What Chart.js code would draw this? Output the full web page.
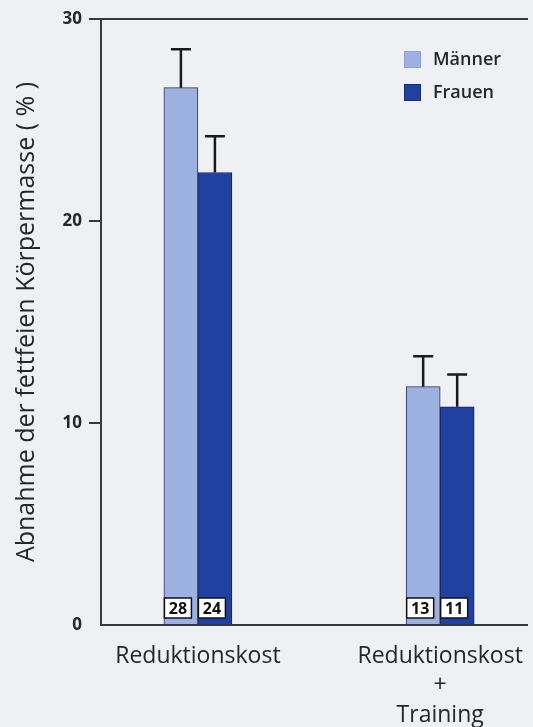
<!DOCTYPE html>
<html>
<head>
<meta charset="utf-8">
<script src="https://cdn.jsdelivr.net/npm/chart.js@4/dist/chart.umd.min.js"></script>
<style>
  html, body { margin: 0; padding: 0; background: #eff0f3; overflow: hidden; }
  #wrap { width: 533px; height: 727px; }
</style>
</head>
<body>
<div id="wrap"><canvas id="chart" width="533" height="727"></canvas></div>
<script>
// Study groups (x axis) and the two series
const categories = [['Reduktionskost'], ['Reduktionskost', '+', 'Training']];
const seriesNames = ['Männer', 'Frauen'];

// Mean loss of fat-free mass (%) per group
const maenner = [26.6, 11.8];
const frauen = [22.4, 10.8];

// Standard deviations (upper whisker)
const maennerSD = [1.9, 1.5];
const frauenSD = [1.8, 1.6];

// Number of subjects per bar
const maennerN = [28, 13];
const frauenN = [24, 11];

// Y axis tick labels
const yTicks = [0, 10, 20, 30];

const FONT = '"Open Sans", "Noto Sans", sans-serif';
const INK = '#262626';
const COLORS = ['#9db1e1', '#2141a0'];

// Groups sit on a linear x scale so the gap between them can be set freely
const groupPos = categories.map((_, i) => 1 + i * 2.5);

const errorBarsAndCounts = {
  id: 'errorBarsAndCounts',
  afterDatasetsDraw(chart) {
    const { ctx } = chart;
    const y = chart.scales.y;
    const base = y.getPixelForValue(0);
    chart.data.datasets.forEach((ds, di) => {
      const meta = chart.getDatasetMeta(di);
      meta.data.forEach((bar, i) => {
        const top = y.getPixelForValue(ds.data[i].y + ds.sd[i]);
        ctx.save();
        ctx.strokeStyle = '#1a1a1a';
        ctx.lineWidth = 2.5;
        ctx.beginPath();
        ctx.moveTo(bar.x, bar.y);
        ctx.lineTo(bar.x, top);
        ctx.moveTo(bar.x - 10, top);
        ctx.lineTo(bar.x + 10, top);
        ctx.stroke();

        // subject count box at the foot of the bar
        const bw = 27, bh = 20;
        const bx = bar.x - 3 - bw / 2;
        const by = base - 7 - bh;
        ctx.fillStyle = '#ffffff';
        ctx.fillRect(bx, by, bw, bh);
        ctx.lineWidth = 1.5;
        ctx.strokeStyle = '#111111';
        ctx.strokeRect(bx, by, bw, bh);
        ctx.fillStyle = '#111111';
        ctx.font = 'bold 16px ' + FONT;
        ctx.textAlign = 'center';
        ctx.textBaseline = 'middle';
        ctx.fillText(String(ds.n[i]), bx + bw / 2, by + bh / 2 + 1);
        ctx.restore();
      });
    });
  }
};

const insideLegend = {
  id: 'insideLegend',
  afterDraw(chart) {
    const { ctx } = chart;
    const x0 = 404, y0 = 51, box = 17, step = 33;
    chart.data.datasets.forEach((ds, i) => {
      const yy = y0 + i * step;
      ctx.save();
      ctx.fillStyle = ds.backgroundColor;
      ctx.fillRect(x0, yy, box, box);
      ctx.strokeStyle = i === 0 ? '#8ea3d6' : '#1a2f78';
      ctx.lineWidth = 1;
      ctx.strokeRect(x0 + 0.5, yy + 0.5, box - 1, box - 1);
      ctx.fillStyle = INK;
      ctx.font = '600 18px ' + FONT;
      ctx.textAlign = 'left';
      ctx.textBaseline = 'middle';
      ctx.fillText(ds.label, x0 + 29, yy + box / 2);
      ctx.restore();
    });
  }
};

new Chart(document.getElementById('chart'), {
  type: 'bar',
  data: {
    datasets: [
      {
        label: seriesNames[0],
        data: maenner.map((v, i) => ({ x: groupPos[i], y: v })),
        sd: maennerSD,
        n: maennerN,
        backgroundColor: COLORS[0],
        borderColor: '#2a3560',
        borderWidth: 1,
        barThickness: 34
      },
      {
        label: seriesNames[1],
        data: frauen.map((v, i) => ({ x: groupPos[i], y: v })),
        sd: frauenSD,
        n: frauenN,
        backgroundColor: COLORS[1],
        borderColor: '#17245c',
        borderWidth: 1,
        barThickness: 34
      }
    ]
  },
  options: {
    responsive: false,
    animation: false,
    layout: { autoPadding: false, padding: { top: 19, right: 0, bottom: 0, left: 0 } },
    plugins: { legend: { display: false }, tooltip: { enabled: false } },
    scales: {
      x: {
        type: 'linear',
        position: 'bottom',
        offset: false,
        min: 0,
        max: 4.4,
        grid: { display: false, offset: false },
        border: { display: true, color: '#3a3a3a', width: 2 },
        afterBuildTicks: s => { s.ticks = groupPos.map(v => ({ value: v })); },
        ticks: {
          autoSkip: false,
          maxRotation: 0,
          padding: 9,
          color: INK,
          font: { family: FONT, size: 23, lineHeight: 1.27 },
          callback: (v, i) => categories[i]
        },
        afterFit: s => { s.height = 102; }
      },
      x2: {
        type: 'linear',
        position: 'top',
        offset: false,
        grid: { display: false },
        ticks: { display: false },
        border: { display: true, color: '#3a3a3a', width: 2 },
        afterFit: s => { s.height = 0; }
      },
      y: {
        min: 0,
        max: 30,
        afterBuildTicks: s => { s.ticks = yTicks.map(v => ({ value: v })); },
        grid: {
          drawOnChartArea: false,
          tickLength: 12,
          lineWidth: 2,
          color: c => (c.tick && c.tick.value === 0 ? 'rgba(0,0,0,0)' : '#3a3a3a')
        },
        border: { display: true, color: '#3a3a3a', width: 2 },
        ticks: { padding: 7, color: INK, font: { family: FONT, size: 17, weight: 'bold' } },
        title: {
          display: true,
          text: 'Abnahme der fettfeien Körpermasse ( % )',
          color: INK,
          font: { family: FONT, size: 25 },
          padding: { top: 12, bottom: 0 }
        },
        afterFit: s => { s.width = 101; }
      }
    }
  },
  plugins: [errorBarsAndCounts, insideLegend]
});
</script>
</body>
</html>
